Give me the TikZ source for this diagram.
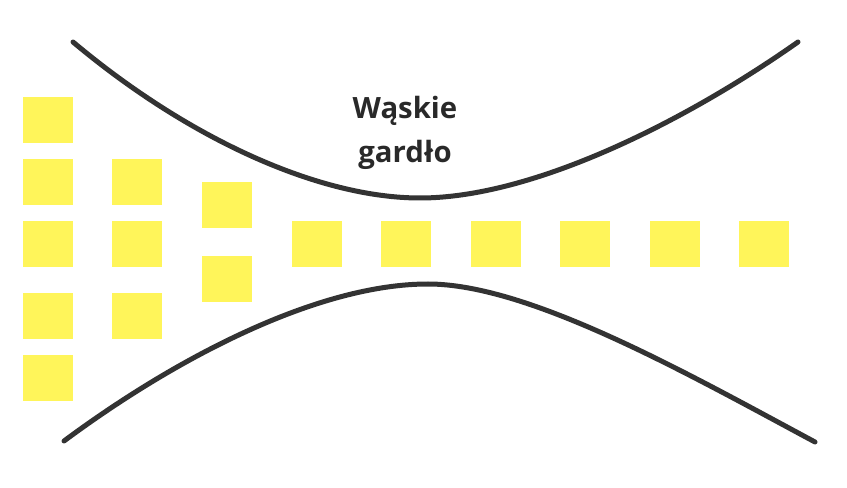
\documentclass[tikz,border=0pt]{standalone}
\usepackage{fontspec}
\setmainfont{Open Sans}
\definecolor{sqyellow}{HTML}{FFF55A}
\definecolor{curvegray}{HTML}{333333}
\tikzset{
  sq/.style={fill=sqyellow, draw=none, minimum width=37.5pt, minimum height=34.5pt, inner sep=0pt},
  wall/.style={draw=curvegray, line width=3.75pt, line cap=round},
  lbl/.style={align=center, inner sep=0pt, font=\fontsize{22pt}{33pt}\selectfont\bfseries, text=curvegray!80!black}
}
\begin{document}
\begin{tikzpicture}[x=0.75pt, y=-0.75pt]
\useasboundingbox (0,0) rectangle (847,488);
% left block
\node[sq] (a1) at (47.5,120) {};
\node[sq] (a2) at (47.5,182) {};
\node[sq] (a3) at (47.5,244) {};
\node[sq] (a4) at (47.5,316) {};
\node[sq] (a5) at (47.5,378) {};
\node[sq] (b1) at (137,182) {};
\node[sq] (b2) at (137,244) {};
\node[sq] (b3) at (137,316) {};
\node[sq] (c1) at (226.5,205) {};
\node[sq] (c2) at (226.5,279) {};
% single row
\node[sq] (d1) at (316.5,244) {};
\node[sq] (d2) at (406,244) {};
\node[sq] (d3) at (495.5,244) {};
\node[sq] (d4) at (585,244) {};
\node[sq] (d5) at (675,244) {};
\node[sq] (d6) at (764,244) {};
% walls
\coordinate (t0) at (73,42);
\coordinate (tm) at (420,198);
\coordinate (t1) at (798,42);
\coordinate (u0) at (64,441);
\coordinate (um) at (428,284);
\coordinate (u1) at (815,442);
\draw[wall] (t0) .. controls (190,140) and (320,198) .. (tm)
                 .. controls (530,198) and (680,125) .. (t1);
\draw[wall] (u0) .. controls (180,355) and (320,284) .. (um)
                 .. controls (530,284) and (690,375) .. (u1);
\node[lbl] (title) at (405,133) {Wąskie\\gardło};
\end{tikzpicture}
\end{document}
